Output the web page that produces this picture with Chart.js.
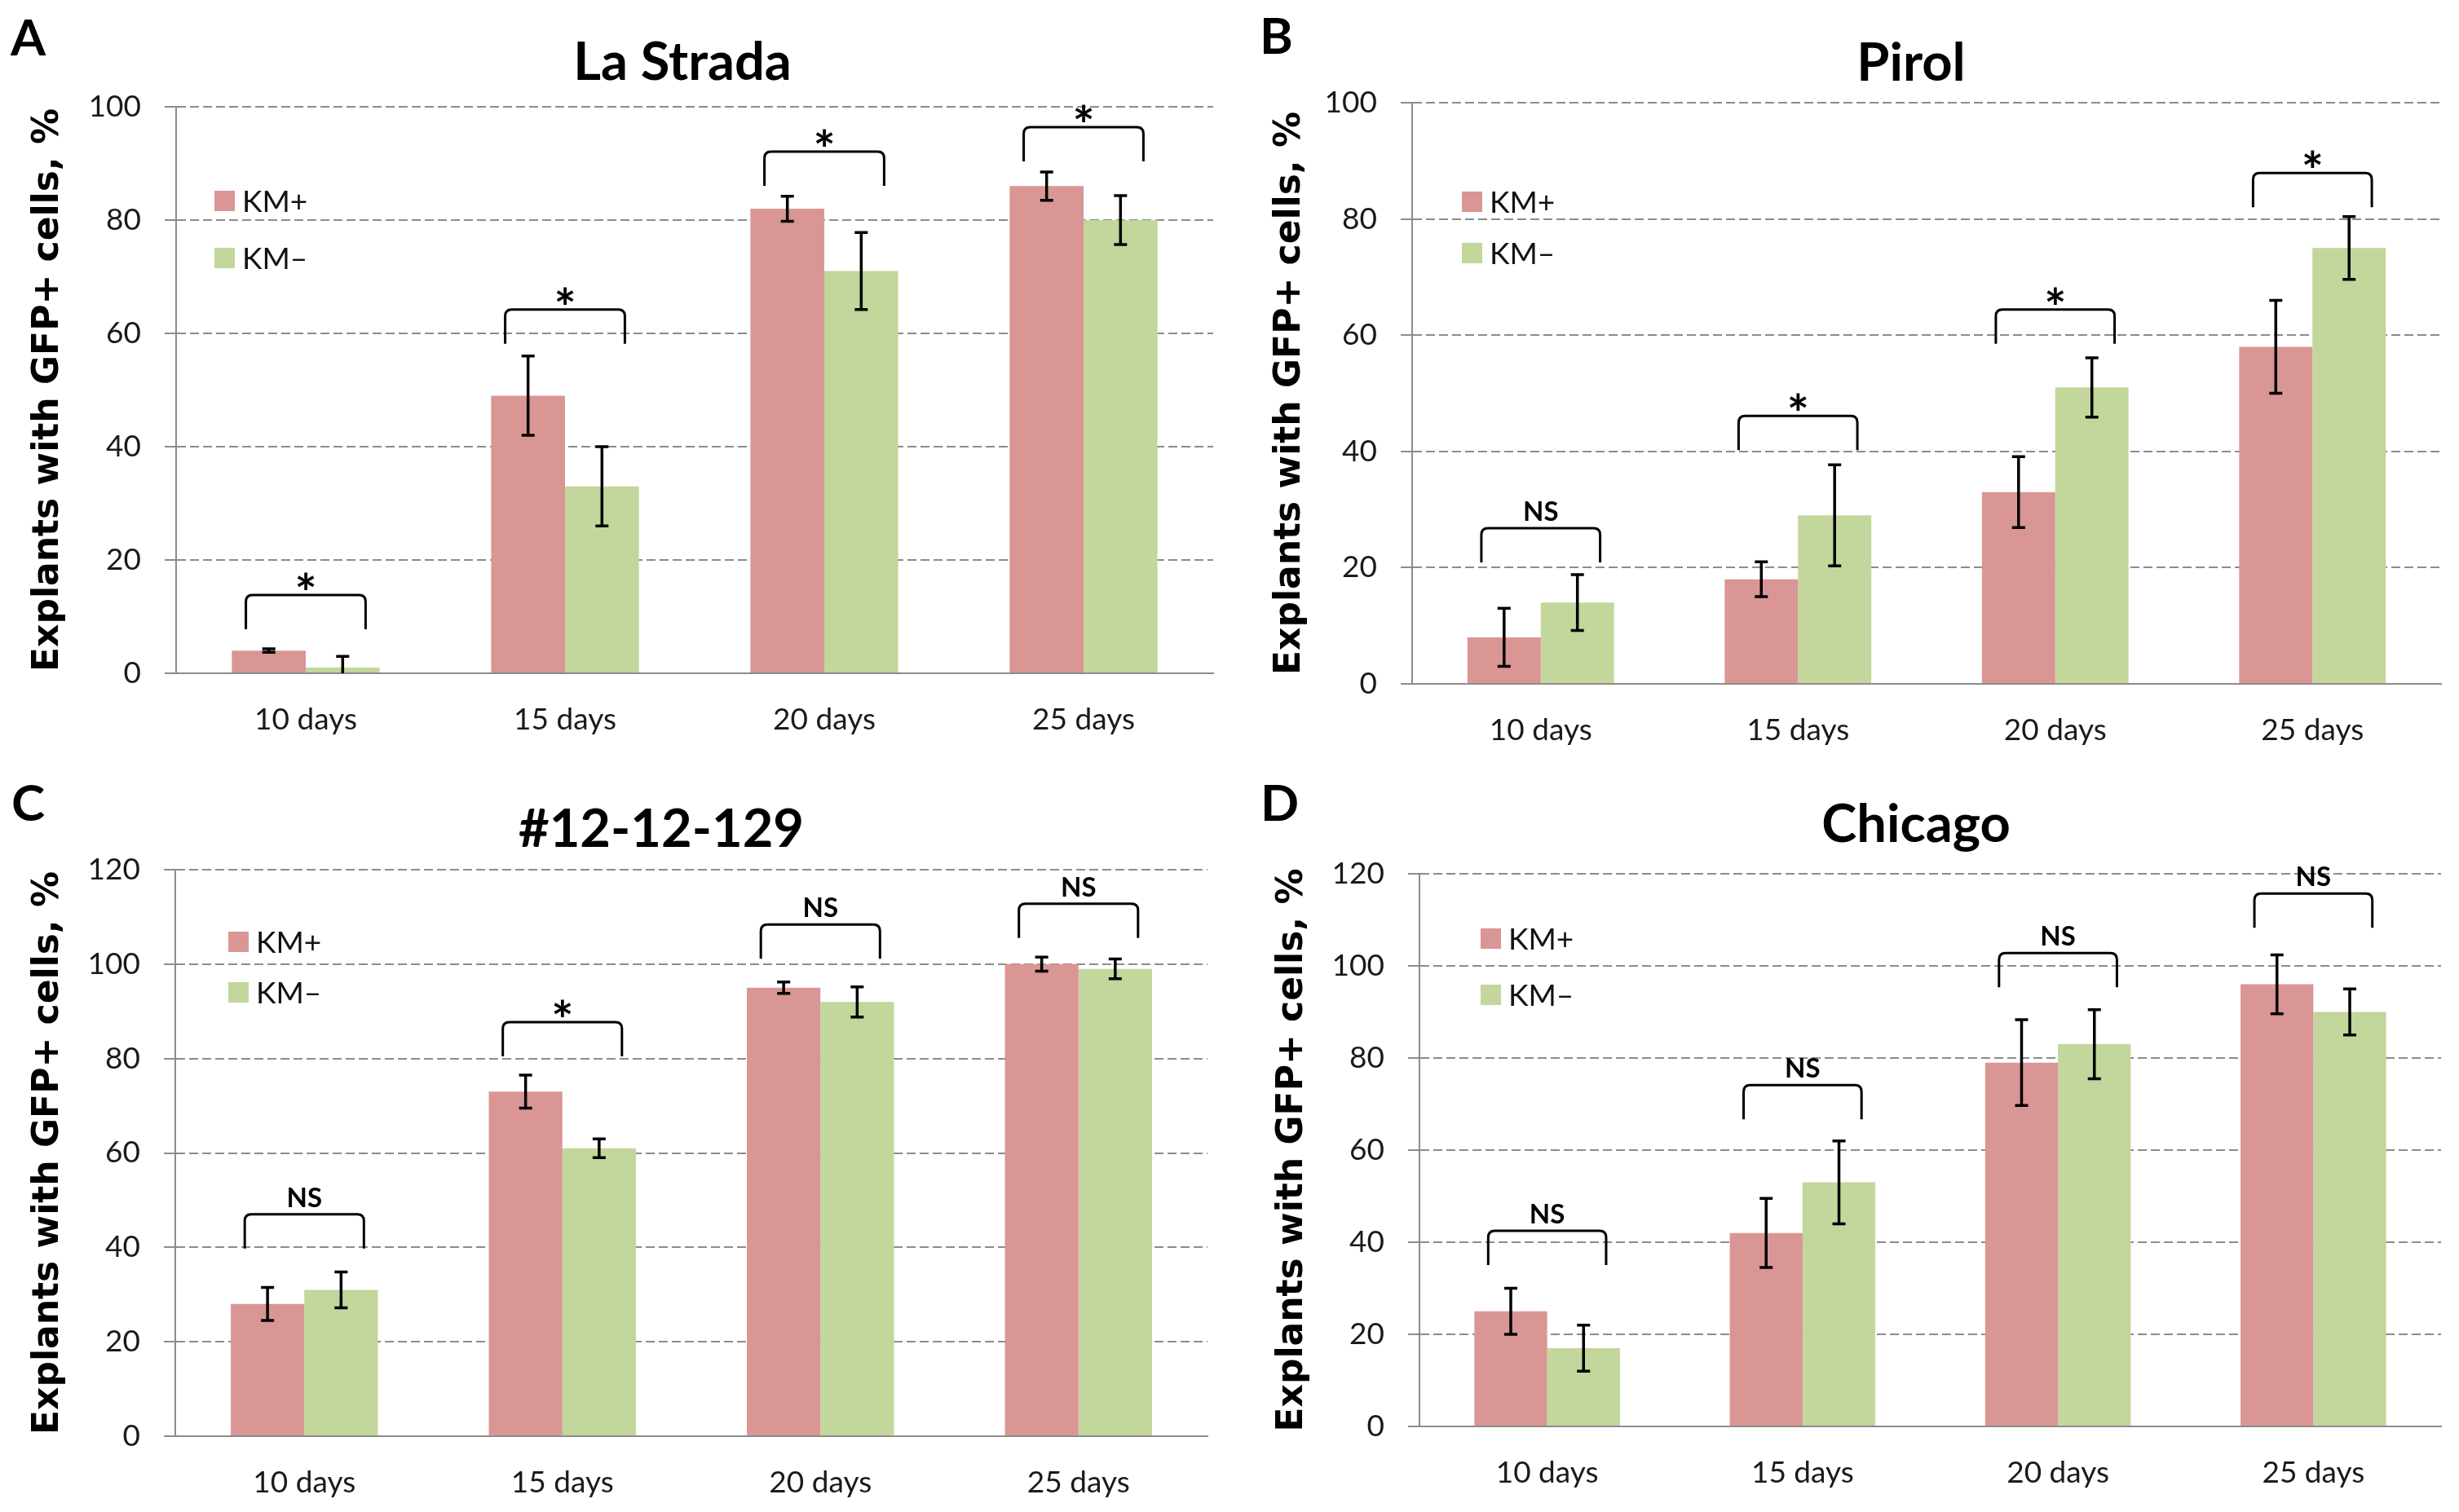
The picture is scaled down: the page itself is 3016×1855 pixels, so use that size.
<!DOCTYPE html>
<html lang="en">
<head>
    <meta charset="UTF-8">
    <title>Explants with GFP+ cells</title>
    <style>
        body { margin: 0; background: #fff; }
        .page { position: relative; width: 3016px; height: 1855px; }
        .page canvas { position: absolute; }
    </style>
</head>
<body>
    <div class="page">
        <canvas id="panelA" width="1508" height="920" style="left:0;top:0"></canvas>
        <canvas id="panelB" width="1508" height="920" style="left:1508px;top:0"></canvas>
        <canvas id="panelC" width="1508" height="935" style="left:0;top:920px"></canvas>
        <canvas id="panelD" width="1508" height="935" style="left:1508px;top:920px"></canvas>
    </div>

    <script src="https://cdn.jsdelivr.net/npm/chart.js"></script>

    <script>
        // categories and series names
        const days = ['10 days', '15 days', '20 days', '25 days'];
        const seriesNames = ['KM+', 'KM\u2013'];
        const yAxisTitle = 'Explants with GFP+ cells, %';

        // A - La Strada
        const laStradaPlus = [4, 49, 82, 86];
        const laStradaPlusErr = [0.3, 7, 2.2, 2.5];
        const laStradaMinus = [1, 33, 71, 80];
        const laStradaMinusErr = [2, 7, 6.8, 4.3];
        const laStradaSig = ['*', '*', '*', '*'];
        const laStradaBracket = [13.8, 64.2, 92.1, 96.4];

        // B - Pirol
        const pirolPlus = [8, 18, 33, 58];
        const pirolPlusErr = [5, 3, 6.1, 8];
        const pirolMinus = [14, 29, 51, 75];
        const pirolMinusErr = [4.8, 8.7, 5.1, 5.4];
        const pirolSig = ['NS', '*', '*', '*'];
        const pirolBracket = [26.8, 46.1, 64.4, 87.9];

        // C - #12-12-129
        const line129Plus = [28, 73, 95, 100];
        const line129PlusErr = [3.5, 3.5, 1.2, 1.5];
        const line129Minus = [31, 61, 92, 99];
        const line129MinusErr = [3.8, 2, 3.2, 2.1];
        const line129Sig = ['NS', '*', 'NS', 'NS'];
        const line129Bracket = [47, 87.7, 108.4, 112.8];

        // D - Chicago
        const chicagoPlus = [25, 42, 79, 96];
        const chicagoPlusErr = [5, 7.5, 9.3, 6.4];
        const chicagoMinus = [17, 53, 83, 90];
        const chicagoMinusErr = [5, 9, 7.5, 5];
        const chicagoSig = ['NS', 'NS', 'NS', 'NS'];
        const chicagoBracket = [42.5, 74.1, 102.8, 115.7];

        const plusColor = '#D99694';
        const minusColor = '#C3D69B';
        const gridColor = '#8c8c8c';

        // put text so that its ink is centred vertically on cy
        function capText(ctx, text, x, cy, font, align) {
            ctx.font = font;
            ctx.textAlign = align || 'center';
            ctx.textBaseline = 'alphabetic';
            const m = ctx.measureText(text);
            ctx.fillText(text, x, cy + (m.actualBoundingBoxAscent - m.actualBoundingBoxDescent) / 2);
        }

        // error bars, significance brackets, legend, title and panel letter
        const overlayPlugin = {
            id: 'overlay',
            afterDatasetsDraw(chart, args, opts) {
                const ctx = chart.ctx;
                const area = chart.chartArea;
                const yScale = chart.scales.y;

                // error bars
                ctx.save();
                ctx.beginPath();
                ctx.rect(area.left, 0, area.right - area.left, area.bottom);
                ctx.clip();
                ctx.strokeStyle = '#000';
                ctx.lineWidth = 3.5;
                chart.data.datasets.forEach((ds, i) => {
                    chart.getDatasetMeta(i).data.forEach((bar, j) => {
                        const yt = yScale.getPixelForValue(ds.data[j] + ds.errors[j]);
                        const yb = yScale.getPixelForValue(ds.data[j] - ds.errors[j]);
                        ctx.beginPath();
                        ctx.moveTo(bar.x, yt); ctx.lineTo(bar.x, yb);
                        ctx.moveTo(bar.x - 8, yt); ctx.lineTo(bar.x + 8, yt);
                        ctx.moveTo(bar.x - 8, yb); ctx.lineTo(bar.x + 8, yb);
                        ctx.stroke();
                    });
                });
                ctx.restore();

                // brackets
                const m0 = chart.getDatasetMeta(0).data;
                const m1 = chart.getDatasetMeta(1).data;
                ctx.save();
                ctx.strokeStyle = '#000';
                ctx.fillStyle = '#000';
                ctx.lineWidth = 3;
                opts.bracket.forEach((v, j) => {
                    const w = m0[j].width;
                    const x1 = m0[j].x - 0.31 * w;
                    const x2 = m1[j].x + 0.31 * w;
                    const top = yScale.getPixelForValue(v);
                    const leg = 42, r = 8;
                    ctx.beginPath();
                    ctx.moveTo(x1, top + leg);
                    ctx.lineTo(x1, top + r);
                    ctx.quadraticCurveTo(x1, top, x1 + r, top);
                    ctx.lineTo(x2 - r, top);
                    ctx.quadraticCurveTo(x2, top, x2, top + r);
                    ctx.lineTo(x2, top + leg);
                    ctx.stroke();
                    const label = opts.sig[j];
                    const cx = (x1 + x2) / 2;
                    if (label === '*') {
                        capText(ctx, label, cx, top - 17, 'bold 64px Lato');
                    } else {
                        capText(ctx, label, cx, top - 21, 'bold 33px Lato');
                    }
                });
                ctx.restore();

                // legend
                const lg = opts.legend;
                ctx.save();
                chart.data.datasets.forEach((ds, i) => {
                    const sx = area.left + lg.dx;
                    const sy = area.top + lg.dy + i * lg.gap;
                    ctx.fillStyle = ds.backgroundColor;
                    ctx.fillRect(sx, sy, 25, 25);
                    ctx.fillStyle = '#111';
                    capText(ctx, ds.label, sx + 34, sy + 12.5, '37px Lato', 'left');
                });
                ctx.restore();

                // title and panel letter
                ctx.save();
                ctx.fillStyle = '#000';
                capText(ctx, opts.title, opts.titleX, opts.titleY, 'bold 65px Lato');
                capText(ctx, opts.letter, opts.letterX, opts.letterY, 'bold 62px Lato', 'left');
                ctx.restore();
            }
        };

        function makePanel(id, p) {
            const ctx = document.getElementById(id).getContext('2d');
            const canvas = ctx.canvas;
            return new Chart(ctx, {
                type: 'bar',
                data: {
                    labels: days,
                    datasets: [
                        { label: seriesNames[0], data: p.plus, errors: p.plusErr, backgroundColor: plusColor },
                        { label: seriesNames[1], data: p.minus, errors: p.minusErr, backgroundColor: minusColor }
                    ]
                },
                options: {
                    responsive: false,
                    animation: false,
                    devicePixelRatio: 1,
                    categoryPercentage: 0.57,
                    barPercentage: 1.0,
                    layout: {
                        padding: { left: p.padLeft, top: p.area.top, right: canvas.width - p.area.right, bottom: 0 }
                    },
                    plugins: {
                        legend: { display: false },
                        tooltip: { enabled: false },
                        overlay: {
                            bracket: p.bracket, sig: p.sig, legend: p.legend,
                            title: p.title, titleX: p.titleX, titleY: p.titleY,
                            letter: p.letter, letterX: p.letterX, letterY: p.letterY
                        }
                    },
                    scales: {
                        x: {
                            grid: { display: false, drawTicks: false },
                            border: { display: true, color: gridColor, width: 2 },
                            ticks: { font: { family: 'Lato', size: 37 }, color: '#1a1a1a', padding: 35, maxRotation: 0, autoSkip: false },
                            afterFit: s => { s.height = canvas.height - p.area.bottom; }
                        },
                        y: {
                            min: 0,
                            max: p.yMax,
                            ticks: { stepSize: 20, font: { family: 'Lato', size: 37 }, color: '#1a1a1a', padding: 29 },
                            grid: { color: gridColor, lineWidth: 2, tickLength: 14, tickColor: gridColor, tickWidth: 2, tickBorderDash: [] },
                            border: { display: true, color: gridColor, width: 2, dash: [11, 5] },
                            title: {
                                display: true, text: yAxisTitle, color: '#000', padding: 0,
                                font: { family: 'DejaVu Sans', size: 44, weight: 'bold' }
                            },
                            afterFit: s => { s.width = p.area.left - p.padLeft; }
                        }
                    }
                },
                plugins: [overlayPlugin]
            });
        }

        makePanel('panelA', {
            plus: laStradaPlus, plusErr: laStradaPlusErr, minus: laStradaMinus, minusErr: laStradaMinusErr,
            sig: laStradaSig, bracket: laStradaBracket, yMax: 100,
            area: { left: 216, top: 131, right: 1488, bottom: 826 }, padLeft: 33,
            legend: { dx: 47, dy: 103, gap: 70 },
            title: 'La Strada', titleX: 837, titleY: 74, letter: 'A', letterX: 13, letterY: 46
        });
        makePanel('panelB', {
            plus: pirolPlus, plusErr: pirolPlusErr, minus: pirolMinus, minusErr: pirolMinusErr,
            sig: pirolSig, bracket: pirolBracket, yMax: 100,
            area: { left: 224, top: 126, right: 1486, bottom: 839 }, padLeft: 48,
            legend: { dx: 61, dy: 109, gap: 63 },
            title: 'Pirol', titleX: 836, titleY: 75, letter: 'B', letterX: 37, letterY: 44
        });
        makePanel('panelC', {
            plus: line129Plus, plusErr: line129PlusErr, minus: line129Minus, minusErr: line129MinusErr,
            sig: line129Sig, bracket: line129Bracket, yMax: 120,
            area: { left: 215, top: 147, right: 1481, bottom: 842 }, padLeft: 33,
            legend: { dx: 65, dy: 76, gap: 62 },
            title: '#12-12-129', titleX: 811, titleY: 95, letter: 'C', letterX: 14, letterY: 65
        });
        makePanel('panelD', {
            plus: chicagoPlus, plusErr: chicagoPlusErr, minus: chicagoMinus, minusErr: chicagoMinusErr,
            sig: chicagoSig, bracket: chicagoBracket, yMax: 120,
            area: { left: 233, top: 152, right: 1486, bottom: 830 }, padLeft: 51,
            legend: { dx: 75, dy: 67, gap: 69 },
            title: 'Chicago', titleX: 842, titleY: 95, letter: 'D', letterX: 38, letterY: 65
        });
    </script>
</body>
</html>
